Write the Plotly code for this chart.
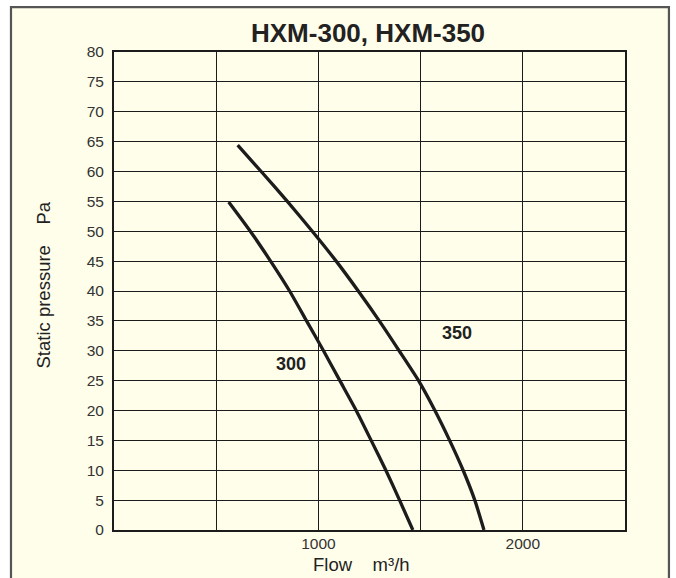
import plotly.graph_objects as go

# Data
flow_300 = [561, 667, 766, 859, 942, 1025, 1105, 1185, 1258, 1330, 1397, 1462]
pressure_300 = [54.9, 50, 45, 40, 35, 30, 25, 20, 15, 10, 5, 0]

flow_350 = [605, 720, 848, 970, 1087, 1195, 1298, 1395, 1490, 1570, 1642, 1708, 1765, 1810]
pressure_350 = [64.4, 60, 55, 50, 45, 40, 35, 30, 25, 20, 15, 10, 5, 0]

curve_labels = ["300", "350"]
label_flow = [864, 1680]
label_pressure = [27.7, 32.9]

x_tickvals = [500, 1000, 1500, 2000]
x_ticktext = ["", "1000", "", "2000"]
y_tickvals = list(range(0, 85, 5))

title_text = "HXM-300, HXM-350"
x_title = "Flow\u00a0\u00a0\u00a0\u00a0m³/h"
y_title = "Static pressure\u00a0\u00a0\u00a0\u00a0Pa"

BG = "#fffeeb"
INK = "#1c1c1c"
FONT = "Liberation Sans, Arial, sans-serif"

fig = go.Figure()
fig.add_trace(go.Scatter(x=flow_300, y=pressure_300, mode="lines",
                         line=dict(color=INK, width=3.3, shape="spline", smoothing=0.6),
                         hoverinfo="skip", showlegend=False))
fig.add_trace(go.Scatter(x=flow_350, y=pressure_350, mode="lines",
                         line=dict(color=INK, width=3.3, shape="spline", smoothing=0.6),
                         hoverinfo="skip", showlegend=False))

for t, fx, py in zip(curve_labels, label_flow, label_pressure):
    fig.add_annotation(x=fx, y=py, xref="x", yref="y", text=f"<b>{t}</b>",
                       showarrow=False, font=dict(family=FONT, size=18, color="#222"),
                       xanchor="center", yanchor="middle")

# Title and axis titles
fig.add_annotation(x=0.497, y=1.0397, xref="paper", yref="paper", text=f"<b>{title_text}</b>",
                   showarrow=False, font=dict(family=FONT, size=26, color="#222"),
                   xanchor="center", yanchor="middle")
fig.add_annotation(x=0.4834, y=-0.0732, xref="paper", yref="paper", text=x_title,
                   showarrow=False, font=dict(family=FONT, size=18.5, color="#222"),
                   xanchor="center", yanchor="middle")
fig.add_annotation(x=-0.137, y=0.5136, xref="paper", yref="paper", text=y_title,
                   showarrow=False, textangle=-90, font=dict(family=FONT, size=18.5, color="#222"),
                   xanchor="center", yanchor="middle")

# Outer cream panel with gray frame
fig.add_shape(type="rect", xref="paper", yref="paper",
              x0=-0.2016, x1=1.086, y0=-0.13, y1=1.094,
              line=dict(color="#555555", width=2.2), fillcolor=BG, layer="below")

fig.update_xaxes(range=[0, 2500], tickvals=x_tickvals, ticktext=x_ticktext,
                 showgrid=True, gridcolor=INK, gridwidth=1.4,
                 showline=True, linecolor=INK, linewidth=2, mirror=True,
                 zeroline=False, ticks="", ticklabelstandoff=-2,
                 tickfont=dict(family=FONT, size=15.5, color="#333"))
fig.update_yaxes(range=[0, 80], tickvals=y_tickvals,
                 showgrid=True, gridcolor=INK, gridwidth=1.4,
                 showline=True, linecolor=INK, linewidth=2, mirror=True,
                 zeroline=False, ticks="", ticklabelstandoff=5,
                 tickfont=dict(family=FONT, size=15.5, color="#333"))

fig.update_layout(width=676, height=578,
                  margin=dict(l=114, r=51, t=52, b=48, autoexpand=False),
                  paper_bgcolor="#ffffff", plot_bgcolor=BG,
                  font=dict(family=FONT, color="#333"))

fig.write_html("out.html", config={"displayModeBar": False},
               post_script="document.body.style.margin='0';document.body.style.overflow='hidden';")
